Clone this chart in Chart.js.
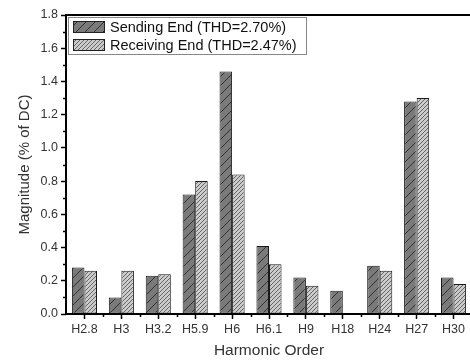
<!DOCTYPE html>
<html lang="en">
<head>
    <meta charset="UTF-8">
    <title>Harmonic Spectrum</title>
    <script src="https://cdn.jsdelivr.net/npm/chart.js"></script>
    <style>
        html, body {
            margin: 0;
            padding: 0;
            background: #fff;
            overflow: hidden;
        }
        .wrap {
            position: relative;
            width: 476px;
            height: 360px;
        }
    </style>
</head>
<body>
    <div class="wrap">
        <canvas id="chart"></canvas>
    </div>

    <script>
        // Data
        const categories = ['H2.8', 'H3', 'H3.2', 'H5.9', 'H6', 'H6.1', 'H9', 'H18', 'H24', 'H27', 'H30'];
        const sendingEnd = [0.28, 0.10, 0.23, 0.72, 1.46, 0.41, 0.22, 0.14, 0.29, 1.28, 0.22];
        const receivingEnd = [0.26, 0.26, 0.24, 0.80, 0.84, 0.30, 0.17, null, 0.26, 1.30, 0.18];
        const seriesNames = ['Sending End (THD=2.70%)', 'Receiving End (THD=2.47%)'];
        const yMin = 0, yMax = 1.8, yStep = 0.2;

        const FONT = 'Arial, "Liberation Sans", sans-serif';

        // Hatched fills
        function makePattern(bg, line, size, width) {
            const c = document.createElement('canvas');
            c.width = size;
            c.height = size;
            const g = c.getContext('2d');
            g.fillStyle = bg;
            g.fillRect(0, 0, size, size);
            g.strokeStyle = line;
            g.lineWidth = width;
            g.beginPath();
            g.moveTo(-1, size + 1);
            g.lineTo(size + 1, -1);
            g.moveTo(-1, 1);
            g.lineTo(1, -1);
            g.moveTo(size - 1, size + 1);
            g.lineTo(size + 1, size - 1);
            g.stroke();
            return g.createPattern(c, 'repeat');
        }
        const sendFill = makePattern('#7a7a7a', '#2a2a2a', 9, 0.9);
        const recvFill = makePattern('#cccccc', '#484848', 4, 0.8);

        // Frame, minor ticks and legend box
        const decorPlugin = {
            id: 'decor',
            afterDraw(chart) {
                const ctx = chart.ctx;
                const a = chart.chartArea;
                const y = chart.scales.y;
                const x = chart.scales.x;
                ctx.save();
                ctx.strokeStyle = '#000';
                ctx.lineWidth = 2;
                ctx.strokeRect(a.left, a.top, a.right - a.left, a.bottom - a.top);

                // y minor ticks
                ctx.lineWidth = 1.5;
                ctx.beginPath();
                for (let v = yMin + yStep / 2; v < yMax; v += yStep) {
                    const py = Math.round(y.getPixelForValue(v)) + 0.5;
                    ctx.moveTo(a.left - 3, py);
                    ctx.lineTo(a.left, py);
                }
                // x minor ticks at category boundaries
                for (let i = 1; i < categories.length; i++) {
                    const px = Math.round((x.getPixelForTick(i - 1) + x.getPixelForTick(i)) / 2) + 0.5;
                    ctx.moveTo(px, a.bottom);
                    ctx.lineTo(px, a.bottom + 3);
                }
                ctx.stroke();

                // legend
                const lx = a.left + 2, ly = a.top + 2, lw = 238, lh = 37;
                ctx.fillStyle = '#fff';
                ctx.fillRect(lx, ly, lw, lh);
                ctx.strokeStyle = '#888';
                ctx.lineWidth = 1;
                ctx.strokeRect(lx + 0.5, ly + 0.5, lw, lh);
                const fills = [sendFill, recvFill];
                ctx.font = '14.5px ' + FONT;
                ctx.textBaseline = 'middle';
                seriesNames.forEach((name, i) => {
                    const ry = ly + 4 + i * 18;
                    ctx.fillStyle = fills[i];
                    ctx.fillRect(lx + 5, ry, 32, 12);
                    ctx.strokeStyle = '#222';
                    ctx.strokeRect(lx + 5.5, ry + 0.5, 31, 11);
                    ctx.fillStyle = '#111';
                    ctx.fillText(name, lx + 42, ry + 7);
                });
                ctx.restore();
            }
        };

        const ctx = document.getElementById('chart').getContext('2d');
        const chart = new Chart(ctx, {
            type: 'bar',
            data: {
                labels: categories,
                datasets: [
                    {
                        label: seriesNames[0],
                        data: sendingEnd,
                        backgroundColor: sendFill,
                        borderColor: '#1a1a1a',
                        borderWidth: 1,
                        borderSkipped: false
                    },
                    {
                        label: seriesNames[1],
                        data: receivingEnd,
                        backgroundColor: recvFill,
                        borderColor: '#1a1a1a',
                        borderWidth: 1,
                        borderSkipped: false
                    }
                ]
            },
            options: {
                responsive: true,
                maintainAspectRatio: false,
                animation: false,
                layout: {
                    padding: { top: 15, right: 4, left: 0, bottom: 0 }
                },
                datasets: {
                    bar: {
                        categoryPercentage: 0.68,
                        barPercentage: 1.0
                    }
                },
                plugins: {
                    legend: { display: false },
                    tooltip: { enabled: false }
                },
                scales: {
                    x: {
                        grid: {
                            drawOnChartArea: false,
                            drawTicks: true,
                            tickLength: 5,
                            tickWidth: 1.5,
                            tickColor: '#000',
                            offset: false
                        },
                        border: { display: false },
                        ticks: {
                            color: '#333',
                            padding: 3,
                            maxRotation: 0,
                            autoSkip: false,
                            font: { family: FONT, size: 12.5 }
                        },
                        title: {
                            display: true,
                            text: 'Harmonic Order',
                            color: '#333',
                            padding: { top: 10, bottom: 0 },
                            font: { family: FONT, size: 15.5 }
                        },
                        afterFit: s => { s.height = 46; }
                    },
                    y: {
                        min: yMin,
                        max: yMax,
                        grid: {
                            drawOnChartArea: false,
                            drawTicks: true,
                            tickLength: 5,
                            tickWidth: 1.5,
                            tickColor: '#000'
                        },
                        border: { display: false },
                        ticks: {
                            stepSize: yStep,
                            color: '#333',
                            padding: 3,
                            callback: v => Number(v).toFixed(1),
                            font: { family: FONT, size: 12.5 }
                        },
                        title: {
                            display: true,
                            text: 'Magnitude (% of DC)',
                            color: '#333',
                            padding: { top: 16, bottom: 0 },
                            font: { family: FONT, size: 15 }
                        },
                        afterFit: s => { s.width = 66; }
                    }
                }
            },
            plugins: [decorPlugin]
        });
    </script>
</body>
</html>
